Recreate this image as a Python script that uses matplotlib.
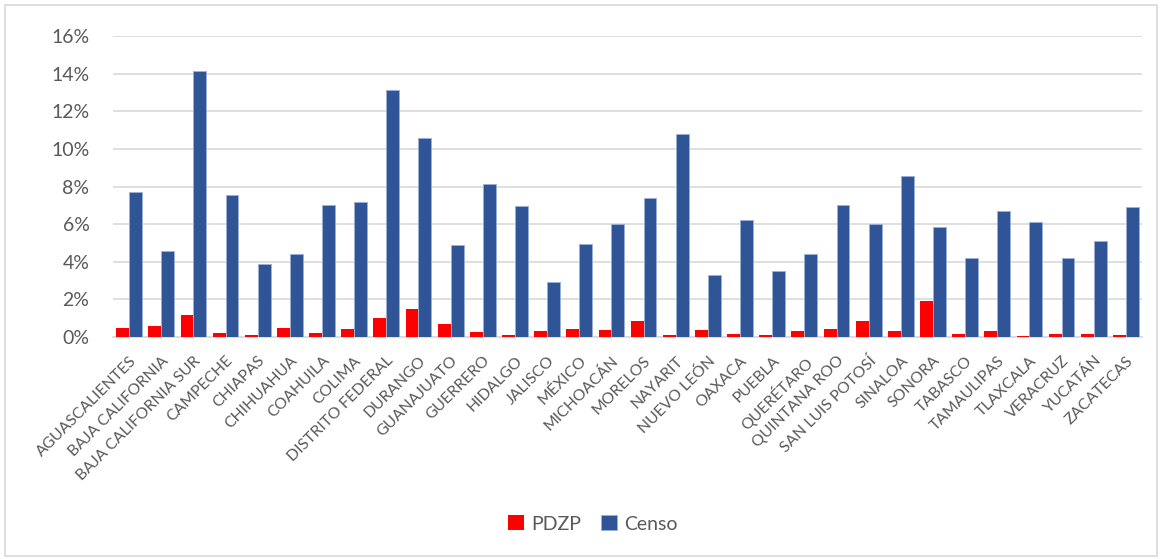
import matplotlib
matplotlib.use("Agg")
import matplotlib.pyplot as plt
from matplotlib.patches import Rectangle
from matplotlib.ticker import FuncFormatter, MultipleLocator
import numpy as np

states = [
    "AGUASCALIENTES", "BAJA CALIFORNIA", "BAJA CALIFORNIA SUR", "CAMPECHE",
    "CHIAPAS", "CHIHUAHUA", "COAHUILA", "COLIMA", "DISTRITO FEDERAL",
    "DURANGO", "GUANAJUATO", "GUERRERO", "HIDALGO", "JALISCO", "MÉXICO",
    "MICHOACÁN", "MORELOS", "NAYARIT", "NUEVO LEÓN", "OAXACA", "PUEBLA",
    "QUERÉTARO", "QUINTANA ROO", "SAN LUIS POTOSÍ", "SINALOA", "SONORA",
    "TABASCO", "TAMAULIPAS", "TLAXCALA", "VERACRUZ", "YUCATÁN", "ZACATECAS",
]

pdzp = [0.48, 0.58, 1.19, 0.23, 0.09, 0.48, 0.23, 0.43, 1.03, 1.51, 0.71,
        0.25, 0.09, 0.34, 0.41, 0.35, 0.87, 0.09, 0.39, 0.14, 0.09, 0.34,
        0.44, 0.87, 0.34, 1.90, 0.14, 0.34, 0.04, 0.14, 0.16, 0.12]

censo = [7.71, 4.59, 14.14, 7.53, 3.88, 4.43, 7.00, 7.18, 13.15, 10.56, 4.91,
         8.15, 6.98, 2.92, 4.94, 6.02, 7.37, 10.79, 3.28, 6.20, 3.49, 4.39,
         7.00, 5.99, 8.58, 5.85, 4.22, 6.70, 6.13, 4.22, 5.12, 6.91]

RED = "#FF0000"
BLUE = "#2F5597"
TEXT = "#595959"
GRID = "#D9D9D9"

plt.rcParams["font.family"] = ["Lato", "DejaVu Sans"]

fig = plt.figure(figsize=(11.64, 5.59), dpi=100)
ax = fig.add_axes([113 / 1164, 1 - 337 / 559, 1029 / 1164, 301 / 559])

x = np.arange(len(states))
w = 0.4
ax.bar(x - w / 2, pdzp, width=w, color=RED, label="PDZP", zorder=3)
ax.bar(x + w / 2, censo, width=w, color=BLUE, edgecolor="#9DB0D6",
       linewidth=0.6, label="Censo", zorder=3)

ax.set_xlim(-0.5, len(states) - 0.5)
ax.set_ylim(0, 16)
ax.yaxis.set_major_locator(MultipleLocator(2))
ax.yaxis.set_major_formatter(FuncFormatter(lambda v, p: f"{v:.0f}%"))
ax.grid(axis="y", color=GRID, linewidth=1.2, zorder=0)
ax.set_axisbelow(True)

for s in ("top", "right", "left"):
    ax.spines[s].set_visible(False)
ax.spines["bottom"].set_color(GRID)
ax.spines["bottom"].set_linewidth(1.2)

ax.tick_params(axis="y", length=0, pad=17, labelsize=14, labelcolor=TEXT)
ax.tick_params(axis="x", length=0, pad=12, labelsize=11.3, labelcolor=TEXT)
ax.set_xticks(x)
ax.set_xticklabels(states, rotation=45, ha="right", rotation_mode="anchor")

leg = fig.legend(loc="center", bbox_to_anchor=(593 / 1164, 1 - 524 / 559),
                 ncol=2, frameon=False, fontsize=14, handlelength=0.8,
                 handleheight=0.8, handletextpad=0.4, columnspacing=1.0)
for t in leg.get_texts():
    t.set_color(TEXT)

fig.patches.append(Rectangle((5 / 1164, 3 / 559), 1152 / 1164, 551 / 559,
                             transform=fig.transFigure, fill=False,
                             edgecolor="#D9D9D9", linewidth=1.2))

fig.savefig("out.png", dpi=100)
